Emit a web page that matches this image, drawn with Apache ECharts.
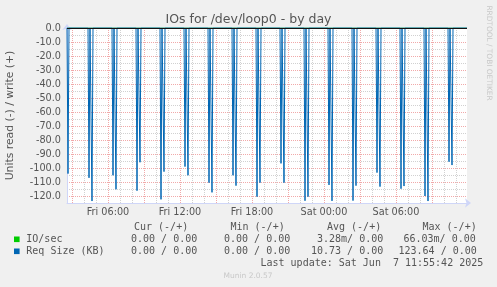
<!DOCTYPE html>
<html><head><meta charset="utf-8">
<script src="https://cdn.jsdelivr.net/npm/echarts@6/dist/echarts.min.js"></script>
<style>html,body{margin:0;padding:0;background:#f0f0f0;}#c{width:497px;height:287px;}</style>
</head><body><div id="c"></div>
<script>
// ---- data ----
const chartTitle = 'IOs for /dev/loop0 - by day';
const yAxisName = 'Units read (-) / write (+)';
const rangeStart = '2025-06-06T02:35:00';
const rangeEnd = '2025-06-07T11:55:00';
// Req Size (KB), read side (drawn negative) — spikes
const readSpikeTimes = [
  '2025-06-06T02:40', '2025-06-06T04:25', '2025-06-06T04:40', '2025-06-06T06:25', '2025-06-06T06:40',
  '2025-06-06T08:25', '2025-06-06T08:40', '2025-06-06T10:25', '2025-06-06T10:40', '2025-06-06T12:25',
  '2025-06-06T12:40', '2025-06-06T14:25', '2025-06-06T14:40', '2025-06-06T16:25', '2025-06-06T16:40',
  '2025-06-06T18:25', '2025-06-06T18:40', '2025-06-06T20:25', '2025-06-06T20:40', '2025-06-06T22:25',
  '2025-06-06T22:40', '2025-06-07T00:25', '2025-06-07T00:40', '2025-06-07T02:25', '2025-06-07T02:40',
  '2025-06-07T04:25', '2025-06-07T04:40', '2025-06-07T06:25', '2025-06-07T06:40', '2025-06-07T08:25',
  '2025-06-07T08:40', '2025-06-07T10:25', '2025-06-07T10:40'
];
const readSpikeValues = [
  -104.0, -107.0, -123.6, -105.2, -115.2,
  -116.2, -95.9, -122.4, -102.6, -99.0,
  -105.2, -110.5, -117.4, -105.2, -112.6,
  -120.5, -110.5, -96.7, -110.5, -123.4,
  -120.5, -112.1, -123.5, -123.3, -112.6,
  -103.3, -113.3, -114.8, -112.9, -120.0,
  -123.6, -95.5, -97.9
];
const baselineValue = 0;        // value between spikes
const writeValues = [0, 0];     // write side (+) at start / end
const ioWriteValues = [0, 0];   // IO/sec (at this scale: 0)
const yTickLabels = [-120, -110, -100, -90, -80, -70, -60, -50, -40, -30, -20, -10, 0];
const xLabelTimes = ['2025-06-06T06:00', '2025-06-06T12:00', '2025-06-06T18:00', '2025-06-07T00:00', '2025-06-07T06:00'];
const legendHeader = ['Cur (-/+)', 'Min (-/+)', 'Avg (-/+)', 'Max (-/+)'];
const legendNames = ['IO/sec', 'Req Size (KB)'];
const legendColors = ['#00CC00', '#0066B3'];
const legendRows = [
  ['0.00 / 0.00', '0.00 / 0.00', '3.28m/ 0.00', '66.03m/ 0.00'],
  ['0.00 / 0.00', '0.00 / 0.00', '10.73 / 0.00', '123.64 / 0.00']
];
const lastUpdate = 'Last update: Sat Jun  7 11:55:42 2025';
const footer = 'Munin 2.0.57';
const watermark = 'RRDTOOL / TOBI OETIKER';

// ---- build ----
const T = s => new Date(s).getTime();
const tStart = T(rangeStart), tEnd = T(rangeEnd);
const STEP = 300000;
const readData = [[tStart, baselineValue]];
readSpikeTimes.forEach((s, i) => {
  const t = T(s);
  readData.push([t - STEP, baselineValue], [t, readSpikeValues[i]], [t + STEP, baselineValue]);
});
readData.push([tEnd, baselineValue]);
const writeData = [[tStart, writeValues[0]], [tEnd, writeValues[1]]];
const ioData = [[tStart, ioWriteValues[0]], [tEnd, ioWriteValues[1]]];

const hourTicks = [];
for (let t = Math.ceil(tStart / 3600000) * 3600000; t <= tEnd; t += 3600000) hourTicks.push(t);
// make sure first tick aligned to local hour
const hourTicksLocal = [];
{
  const d = new Date(tStart); d.setMinutes(0, 0, 0); d.setHours(d.getHours() + 1);
  for (let t = d.getTime(); t <= tEnd; t += 3600000) hourTicksLocal.push(t);
}
const xColors = hourTicksLocal.map(t => (new Date(t).getHours() % 3 === 0) ? 'rgba(224,64,64,0.45)' : 'rgba(140,140,140,0.4)');

const DAYS = ['Sun', 'Mon', 'Tue', 'Wed', 'Thu', 'Fri', 'Sat'];
const pad = n => (n < 10 ? '0' : '') + n;
const fmtX = v => { const d = new Date(v); return DAYS[d.getDay()] + ' ' + pad(d.getHours()) + ':' + pad(d.getMinutes()); };

const FONT = '#555';
const SANS = 'DejaVu Sans';
const MONO = 'DejaVu Sans Mono';
const MG = 'rgba(224,64,64,0.45)', G = 'rgba(140,140,140,0.4)';

const graphics = [
  { type: 'text', x: 248.5, y: 19.5, style: { text: chartTitle, font: '12.5px "' + SANS + '"', fill: FONT, align: 'center', verticalAlign: 'middle' } },
  { type: 'text', x: 10, y: 115.5, rotation: Math.PI / 2, style: { text: yAxisName, font: '10.8px "' + SANS + '"', fill: FONT, align: 'center', verticalAlign: 'middle' } },
  { type: 'text', x: 488.5, y: 53, rotation: -Math.PI / 2, style: { text: watermark, font: '7.4px "' + SANS + '"', fill: '#c8c8c8', align: 'center', verticalAlign: 'middle' } },
  { type: 'text', x: 248, y: 276.3, style: { text: footer, font: '7.5px "' + SANS + '"', fill: '#c8c8c8', align: 'center', verticalAlign: 'middle' } },
  { type: 'text', x: 260.5, y: 263.7, style: { text: lastUpdate, font: '10px "' + MONO + '"', fill: FONT, align: 'left', verticalAlign: 'middle' } }
];
const headX = [134, 230.5, 327, 422.5];
legendHeader.forEach((s, i) => graphics.push({ type: 'text', x: headX[i], y: 227.7, style: { text: s, font: '10px "' + MONO + '"', fill: FONT, verticalAlign: 'middle' } }));
const colX = [[131, 224, 317, 403.5], [131, 224, 311, 398.5]];
legendNames.forEach((n, r) => {
  const y = 239.3 + r * 12;
  graphics.push({ type: 'rect', shape: { x: 14, y: y - 2.8, width: 5.6, height: 5.6 }, style: { fill: legendColors[r] } });
  graphics.push({ type: 'text', x: 26.3, y: y, style: { text: n, font: '10px "' + MONO + '"', fill: FONT, verticalAlign: 'middle' } });
  legendRows[r].forEach((s, i) => graphics.push({ type: 'text', x: colX[r][i], y: y, style: { text: s, font: '10px "' + MONO + '"', fill: FONT, verticalAlign: 'middle' } }));
});

const chart = echarts.init(document.getElementById('c'), null, { renderer: 'canvas' });
chart.setOption({
  animation: false,
  backgroundColor: '#f0f0f0',
  grid: { left: 67, top: 28, width: 400, height: 175, show: true, backgroundColor: '#ffffff', borderWidth: 0 },
  xAxis: {
    type: 'value', min: tStart, max: tEnd,
    axisLine: { show: true, onZero: false, lineStyle: { color: '#CFD6F8', width: 1 }, symbol: ['none', 'arrow'], symbolSize: [7, 6], symbolOffset: [0, 4] },
    axisTick: { show: false, customValues: hourTicksLocal },
    axisLabel: { customValues: xLabelTimes.map(T), formatter: fmtX, color: FONT, fontSize: 9.7, fontFamily: SANS, margin: 4 },
    splitLine: { show: true, lineStyle: { color: xColors, type: [1, 1], width: 1 } }
  },
  yAxis: {
    type: 'value', min: -125, max: 0, interval: 5,
    axisLine: { show: true, onZero: false, lineStyle: { color: '#CFD6F8', width: 1 }, symbol: ['none', 'arrow'], symbolSize: [7, 6], symbolOffset: [0, 4] },
    axisTick: { show: false },
    axisLabel: { customValues: yTickLabels, formatter: v => Number(v).toFixed(1), color: FONT, fontSize: 9.7, fontFamily: SANS, margin: 6 },
    splitLine: { show: true, lineStyle: { color: [G, MG], type: [1, 1], width: 1 } }
  },
  series: [
    { name: 'IO/sec', type: 'line', data: ioData, showSymbol: false, lineStyle: { color: '#00CC00', width: 1 }, silent: true },
    { name: 'Req Size (KB) read', type: 'line', data: readData, showSymbol: false, lineStyle: { color: '#0066B3', width: 1 }, clip: true, silent: true },
    { name: 'Req Size (KB) write', type: 'line', data: writeData, showSymbol: false, lineStyle: { color: '#0066B3', width: 1 }, silent: true,
      markLine: { silent: true, symbol: 'none', label: { show: false }, lineStyle: { color: '#111', type: 'solid', width: 1 }, data: [{ yAxis: 0 }] } }
  ],
  graphic: graphics
});
</script></body></html>
